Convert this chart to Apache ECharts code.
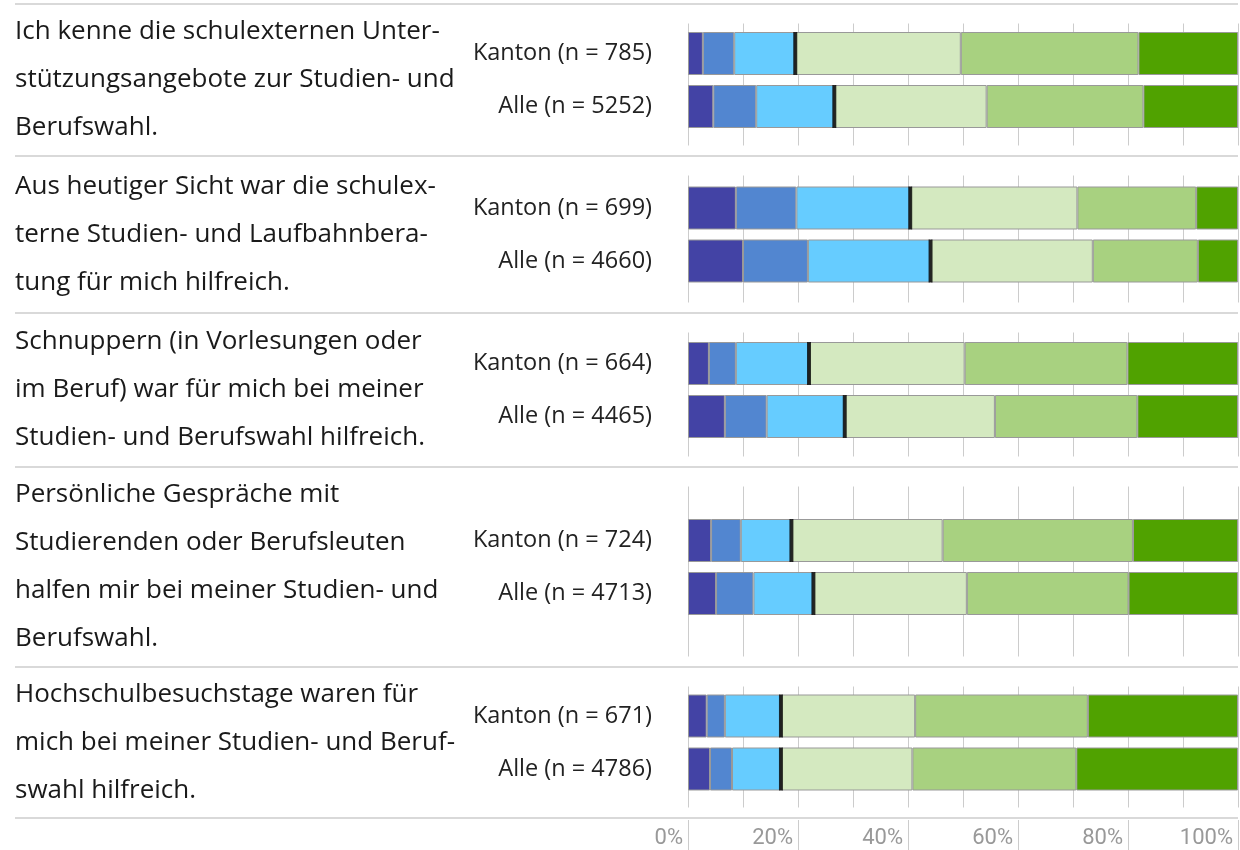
<!DOCTYPE html>
<html>
<head>
<meta charset="utf-8">
<script src="https://cdn.jsdelivr.net/npm/echarts@6/dist/echarts.min.js"></script>
<style>
  html, body { margin: 0; padding: 0; background: #fff; }
  #main { width: 1240px; height: 850px; }
</style>
</head>
<body>
<div id="main"></div>
<script>
// questions, left column
var questions = [
  'Ich kenne die schulexternen Unter-\nstützungsangebote zur Studien- und\nBerufswahl.',
  'Aus heutiger Sicht war die schulex-\nterne Studien- und Laufbahnbera-\ntung für mich hilfreich.',
  'Schnuppern (in Vorlesungen oder\nim Beruf) war für mich bei meiner\nStudien- und Berufswahl hilfreich.',
  'Persönliche Gespräche mit\nStudierenden oder Berufsleuten\nhalfen mir bei meiner Studien- und\nBerufswahl.',
  'Hochschulbesuchstage waren für\nmich bei meiner Studien- und Beruf-\nswahl hilfreich.'
];
var kantonN = [785, 699, 664, 724, 671];
var alleN = [5252, 4660, 4465, 4713, 4786];

// shares in %, six answer levels from negative to positive
var kantonShares = [
  [2.7, 5.7, 11.1, 30.1, 32.3, 18.1],
  [8.7, 11.0, 20.7, 30.4, 21.6, 7.6],
  [3.8, 4.9, 13.3, 28.3, 29.6, 20.1],
  [4.2, 5.4, 9.2, 27.5, 34.6, 19.1],
  [3.4, 3.3, 10.2, 24.4, 31.4, 27.3]
];
var alleShares = [
  [4.6, 7.8, 14.2, 27.7, 28.5, 17.2],
  [10.0, 11.8, 22.3, 29.5, 19.1, 7.3],
  [6.7, 7.6, 14.2, 27.3, 25.9, 18.3],
  [5.1, 6.8, 10.9, 27.9, 29.4, 19.9],
  [4.0, 4.0, 8.9, 23.9, 29.8, 29.4]
];

var colors = ['#4343a5', '#5286d0', '#66ccff', '#d4e9c0', '#a8d180', '#50a200'];
var FONT = '"Open Sans", Roboto, sans-serif';
var seps = [4, 156, 313, 467, 667, 818];
var L = 688, W = 550, BAND = 53, BAR = 43;

var myChart = echarts.init(document.getElementById('main'));

var grids = [], xAxes = [], yAxes = [], series = [], graphic = [];

function negSum(arr) { return arr[0] + arr[1] + arr[2]; }

questions.forEach(function (q, g) {
  var top = seps[g] + 19.5, bottom = seps[g + 1] - 10.5;
  var mid = (seps[g] + seps[g + 1]) / 2;

  // grid with the vertical 10% lines
  var gi = grids.length;
  grids.push({ left: L, width: W, top: top, height: bottom - top });
  xAxes.push({
    type: 'value', gridIndex: gi, min: 0, max: 100, interval: 10,
    axisLine: { show: false }, axisTick: { show: false }, axisLabel: { show: false },
    splitLine: { show: true, lineStyle: { color: '#cccccc', width: 1 } }
  });
  yAxes.push({ type: 'category', gridIndex: gi, data: [''], show: false });

  // grid with the bars
  var bi = grids.length;
  grids.push({ left: L, width: W, top: mid - BAND, height: BAND * 2 });
  xAxes.push({ type: 'value', gridIndex: bi, min: 0, max: 100, show: false, splitLine: { show: false } });
  yAxes.push({
    type: 'category', gridIndex: bi, inverse: true,
    data: ['Kanton (n = ' + kantonN[g] + ')', 'Alle (n = ' + alleN[g] + ')'],
    axisLine: { show: false }, axisTick: { show: false },
    axisLabel: { color: '#222', fontSize: 23.5, fontFamily: FONT, margin: 36 }
  });

  colors.forEach(function (c, k) {
    series.push({
      type: 'bar', xAxisIndex: bi, yAxisIndex: bi, stack: 'q' + g,
      barWidth: BAR, silent: true,
      itemStyle: { color: c, borderColor: '#999', borderWidth: 1 },
      data: [kantonShares[g][k], alleShares[g][k]]
    });
  });
  series.push({
    type: 'scatter', xAxisIndex: bi, yAxisIndex: bi, symbol: 'rect',
    symbolSize: [4, BAR], silent: true, z: 5,
    itemStyle: { color: '#000' },
    data: [[negSum(kantonShares[g]), 0], [negSum(alleShares[g]), 1]]
  });

  graphic.push({
    type: 'text', silent: true,
    style: {
      text: q, x: 15, y: mid, fill: '#1a1a1a',
      font: '26px ' + FONT, lineHeight: 48, verticalAlign: 'middle'
    }
  });
});

// bottom percent axis
var ai = grids.length;
grids.push({ left: L, width: W, top: 820, height: 30 });
xAxes.push({
  type: 'value', gridIndex: ai, min: 0, max: 100, interval: 20,
  axisLine: { show: false }, axisTick: { show: false },
  axisLabel: {
    inside: true, margin: 12, align: 'right', verticalAlign: 'middle',
    padding: [0, 5, 0, 0], color: '#999', fontSize: 22, fontFamily: 'Roboto, sans-serif',
    formatter: '{value}%', showMinLabel: true, showMaxLabel: true
  },
  splitLine: { show: true, lineStyle: { color: '#cccccc', width: 1 } }
});
yAxes.push({ type: 'category', gridIndex: ai, data: [''], show: false });

seps.forEach(function (y) {
  graphic.push({
    type: 'line', silent: true,
    shape: { x1: 15, y1: y, x2: 1238, y2: y },
    style: { stroke: '#d9d9d9', lineWidth: 2 }
  });
});

var option = {
  animation: false,
  backgroundColor: '#fff',
  grid: grids,
  xAxis: xAxes,
  yAxis: yAxes,
  series: series,
  graphic: graphic
};
myChart.setOption(option);
</script>
</body>
</html>
